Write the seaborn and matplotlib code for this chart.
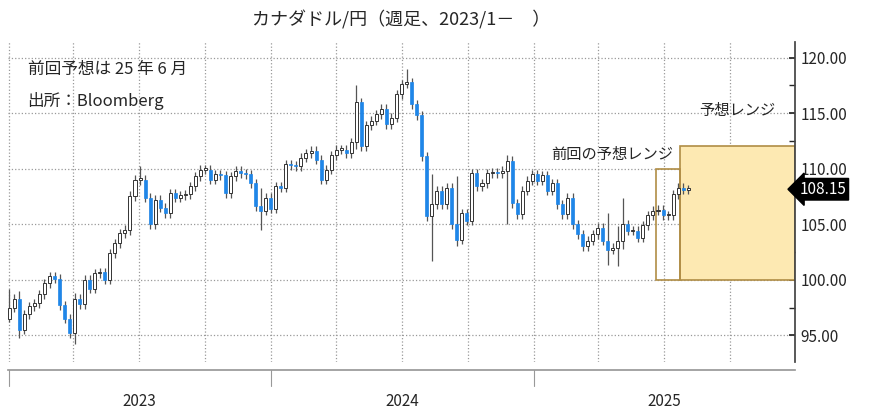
import numpy as np
import pandas as pd
import matplotlib.pyplot as plt
import matplotlib.dates as mdates
from matplotlib.patches import Rectangle
import seaborn as sns

sns.set_theme(style="white")
plt.rcParams["font.family"] = "Noto Sans CJK JP"

# weekly closes, CAD/JPY
closes = [97.5, 98.3, 95.5, 96.9, 97.6, 97.9, 98.7, 99.7, 100.3, 100.1, 97.7, 96.5, 95.2, 98.3,
          97.8, 100.0, 99.2, 100.6, 100.7, 100.0, 102.4, 103.3, 104.2, 104.5, 107.5, 109.0,
          109.0, 107.4, 105.0, 107.2, 106.5, 106.0, 107.8, 107.4, 107.6, 107.7, 108.4, 109.3,
          109.9, 109.9, 109.0, 109.5, 109.4, 107.8, 109.3, 109.8, 109.6, 109.5, 108.7, 106.6,
          106.2, 107.4, 106.4, 108.4, 108.3, 110.4, 110.3, 110.2, 111.0, 111.4, 111.6, 110.8,
          109.0, 109.9, 111.2, 111.7, 111.7, 111.4, 112.4, 116.0, 112.0, 113.9, 114.3, 114.9,
          115.4, 114.0, 114.6, 116.7, 117.6, 117.8, 115.8, 114.8, 111.1, 105.7, 106.8, 108.0,
          106.8, 108.3, 105.0, 103.6, 106.0, 105.3, 109.6, 108.4, 108.7, 109.6, 109.7, 109.6,
          109.8, 110.7, 106.9, 105.9, 108.0, 108.9, 109.5, 108.9, 109.4, 108.0, 108.7, 106.8,
          105.9, 107.4, 105.0, 104.1, 103.0, 103.5, 104.1, 104.7, 103.5, 102.7, 102.9, 103.5,
          105.0, 104.4, 104.4, 103.8, 104.9, 105.8, 106.2, 106.3, 105.8, 105.8, 107.7, 108.3,
          108.1, 108.15]
first_open = 96.5
# weeks with long wicks: index -> (high, low)
long_wicks = {0: (99.2, 96.2), 2: (99.0, 94.8), 13: (98.8, 94.2), 24: (108.0, 104.0),
              26: (110.2, 108.5), 50: (108.3, 104.5), 69: (117.5, 111.8), 79: (119.0, 117.3),
              84: (109.5, 101.7), 89: (109.3, 103.0), 99: (111.2, 105.0), 119: (106.0, 101.3),
              121: (104.8, 101.2), 122: (107.4, 102.8)}
wick = 0.4
last_label = "108.15"
prev_range = (pd.Timestamp("2025-06-20"), pd.Timestamp("2025-07-24"), 100.0, 110.0)
new_range = (pd.Timestamp("2025-07-24"), pd.Timestamp("2025-12-31"), 100.0, 112.0)
years = [2023, 2024, 2025]

dates = pd.date_range("2023-01-02", periods=len(closes), freq="7D")
opens = [first_open] + closes[:-1]
df = pd.DataFrame({"date": dates, "open": opens, "close": closes})
df["high"] = df[["open", "close"]].max(axis=1) + wick
df["low"] = df[["open", "close"]].min(axis=1) - wick
for i, (h, l) in long_wicks.items():
    df.loc[i, "high"] = h
    df.loc[i, "low"] = l

fig = plt.figure(figsize=(8.71, 4.2), dpi=100)
ax = fig.add_axes([0.009, 0.138, 0.904, 0.762])
xnum = mdates.date2num(df["date"])
up = df["close"] >= df["open"]
ax.vlines(xnum, df["low"], df["high"], color="#555555", lw=0.9, zorder=2)
bw = 4.2
ax.bar(xnum[up], (df["close"] - df["open"])[up].clip(lower=0.12), bottom=df["open"][up],
       width=bw, color="white", edgecolor="#333333", lw=0.7, zorder=3)
ax.bar(xnum[~up], (df["open"] - df["close"])[~up], bottom=df["close"][~up],
       width=bw, color="#1f86e8", edgecolor="#1f86e8", lw=0.5, zorder=3)

x0, x1, y0, y1 = new_range
ax.add_patch(Rectangle((mdates.date2num(x0), y0), mdates.date2num(x1) - mdates.date2num(x0),
                       y1 - y0, facecolor="#fde9b2", edgecolor="#b08d45", lw=1.2, zorder=1))
x0, x1, y0, y1 = prev_range
ax.add_patch(Rectangle((mdates.date2num(x0), y0), mdates.date2num(x1) - mdates.date2num(x0),
                       y1 - y0, facecolor="none", edgecolor="#b08d45", lw=1.2, zorder=1))

ax.set_xlim(pd.Timestamp("2022-12-31"), pd.Timestamp("2025-12-31"))
ax.set_ylim(92.6, 121.4)
ax.yaxis.tick_right()
ax.set_yticks([95, 100, 105, 110, 115, 120])
ax.set_yticklabels([f"{v:.2f}" for v in [95, 100, 105, 110, 115, 120]], fontsize=11)
ax.set_yticks(np.arange(97.5, 120, 5), minor=True)
ax.tick_params(axis="y", which="both", direction="in", length=4, right=True, pad=4)
ax.xaxis.set_major_locator(mdates.MonthLocator(bymonth=[1, 4, 7, 10]))
ax.set_xticklabels([])
ax.tick_params(axis="x", length=0)
ax.grid(True, ls=":", color="#999999", lw=0.9)
for s in ["top", "left", "bottom"]:
    ax.spines[s].set_visible(False)
ax.spines["right"].set_color("#444444")

ax.text(0.025, 0.9, "前回予想は 25 年 6 月", transform=ax.transAxes, fontsize=12)
ax.text(0.025, 0.8, "出所：Bloomberg", transform=ax.transAxes, fontsize=12)
ax.text(pd.Timestamp("2025-01-25"), 110.9, "前回の予想レンジ", fontsize=11)
ax.text(pd.Timestamp("2025-08-20"), 114.8, "予想レンジ", fontsize=11)
ax.annotate(last_label, xy=(1.0, closes[-1]), xycoords=("axes fraction", "data"),
            xytext=(3, 0), textcoords="offset points", va="center", fontsize=11, color="white",
            bbox=dict(boxstyle="larrow,pad=0.15", fc="black", ec="black"))

fig.text(0.46, 0.94, "カナダドル/円（週足、2023/1－　）", ha="center", fontsize=13)

bx = fig.add_axes([0.009, 0.02, 0.904, 0.10])
bx.set_xlim(pd.Timestamp("2022-12-31"), pd.Timestamp("2025-12-31"))
bx.set_ylim(0, 1)
for s in ["left", "right", "bottom"]:
    bx.spines[s].set_visible(False)
bx.spines["top"].set_color("#999999")
bx.set_yticks([])
bx.set_xticks([])
for y in years:
    bx.axvline(pd.Timestamp(f"{y}-01-01"), ymin=0.6, ymax=1, color="#999999", lw=0.8)
    bx.text(pd.Timestamp(f"{y}-07-02"), 0.25, str(y), ha="center", va="center", fontsize=11)

fig.savefig("out.png", dpi=100)
